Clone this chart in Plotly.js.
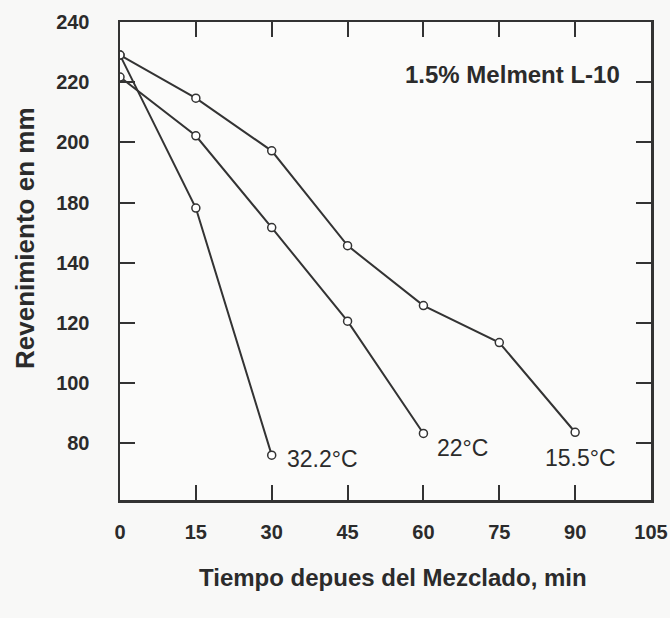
<!DOCTYPE html>
<html>
<head>
<meta charset="utf-8">
<script src="https://cdn.plot.ly/plotly-3.0.1.min.js"></script>
<style>html,body{margin:0;padding:0;background:#f8f8f7;}#chart{width:670px;height:618px;}</style>
</head>
<body>
<div id="chart"></div>
<script>
// Time after mixing (min)
const time155 = [0, 15, 30, 45, 60, 75, 90];
const slump155 = [229, 214.7, 197.2, 165.7, 145.8, 133.5, 103.7];
const time22 = [0, 15, 30, 45, 60];
const slump22 = [221.7, 202.2, 171.7, 140.6, 103.3];
const time322 = [0, 15, 30];
const slump322 = [229, 178.2, 96.1];

// Axis ticks (the printed y labels skip 160, as in the original)
const xTicks = [0, 15, 30, 45, 60, 75, 90, 105];
const yTickVals = [100, 120, 140, 160, 180, 200, 220, 240];
const yTickText = ['80', '100', '120', '140', '180', '200', '220', '240'];

const seriesNames = ['15.5°C', '22°C', '32.2°C'];
const labelX = [91, 62.3, 32.6];
const labelY = [95.2, 98.6, 94.8];
const noteText = '1.5% Melment L-10';

const ink = '#2b2b2b';
const fontFam = 'Liberation Sans, Arial, sans-serif';

function series(x, y, name) {
  return {
    x: x, y: y, name: name, type: 'scatter', mode: 'lines+markers',
    line: {color: '#333333', width: 2},
    marker: {symbol: 'circle', size: 8, color: '#ffffff', line: {color: '#333333', width: 1.5}},
    showlegend: false
  };
}

const data = [
  series(time155, slump155, seriesNames[0]),
  series(time22, slump22, seriesNames[1]),
  series(time322, slump322, seriesNames[2])
];

const labFont = {size: 23, color: ink, family: fontFam};
const annotations = [
  {x: labelX[0], y: labelY[0], xref: 'x', yref: 'y', text: seriesNames[0], showarrow: false, xanchor: 'center', yanchor: 'middle', font: labFont},
  {x: labelX[1], y: labelY[1], xref: 'x', yref: 'y', text: seriesNames[1], showarrow: false, xanchor: 'left', yanchor: 'middle', font: labFont},
  {x: labelX[2], y: labelY[2], xref: 'x', yref: 'y', text: seriesNames[2], showarrow: false, xanchor: 'left', yanchor: 'middle', font: labFont},
  {x: 99.3, y: 222.7, xref: 'x', yref: 'y', text: '<b>' + noteText + '</b>', showarrow: false, xanchor: 'right', yanchor: 'middle', font: {size: 24, color: ink, family: fontFam}},
  {x: 0.515, y: -0.163, xref: 'paper', yref: 'paper', text: '<b>Tiempo depues del Mezclado, min</b>', showarrow: false, xanchor: 'center', yanchor: 'middle', font: {size: 24, color: ink, family: fontFam}},
  {x: -0.179, y: 0.548, xref: 'paper', yref: 'paper', text: '<b>Revenimiento en mm</b>', textangle: -90, showarrow: false, xanchor: 'center', yanchor: 'middle', font: {size: 26, color: ink, family: fontFam}}
];

const tickFont = {size: 20, color: ink, family: fontFam, weight: 'bold'};
const layout = {
  width: 670, height: 618,
  margin: {l: 120, r: 19, t: 22, b: 118},
  paper_bgcolor: '#f8f8f7', plot_bgcolor: '#fbfbfa',
  font: {family: fontFam, color: ink},
  xaxis: {
    range: [0, 105], tickvals: xTicks, ticktext: xTicks.map(String),
    showgrid: false, zeroline: false, showline: true, linecolor: '#333', linewidth: 2.5,
    mirror: 'ticks', ticks: 'inside', ticklen: 15, tickwidth: 2, tickcolor: '#333',
    tickfont: tickFont, ticklabelstandoff: 12
  },
  yaxis: {
    range: [81.2, 240], tickvals: yTickVals, ticktext: yTickText,
    showgrid: false, zeroline: false, showline: true, linecolor: '#333', linewidth: 2.5,
    mirror: 'ticks', ticks: 'inside', ticklen: 15, tickwidth: 2, tickcolor: '#333',
    tickfont: tickFont, ticklabelstandoff: 24
  },
  annotations: annotations
};

Plotly.newPlot('chart', data, layout, {displayModeBar: false, staticPlot: true});
</script>
</body>
</html>
